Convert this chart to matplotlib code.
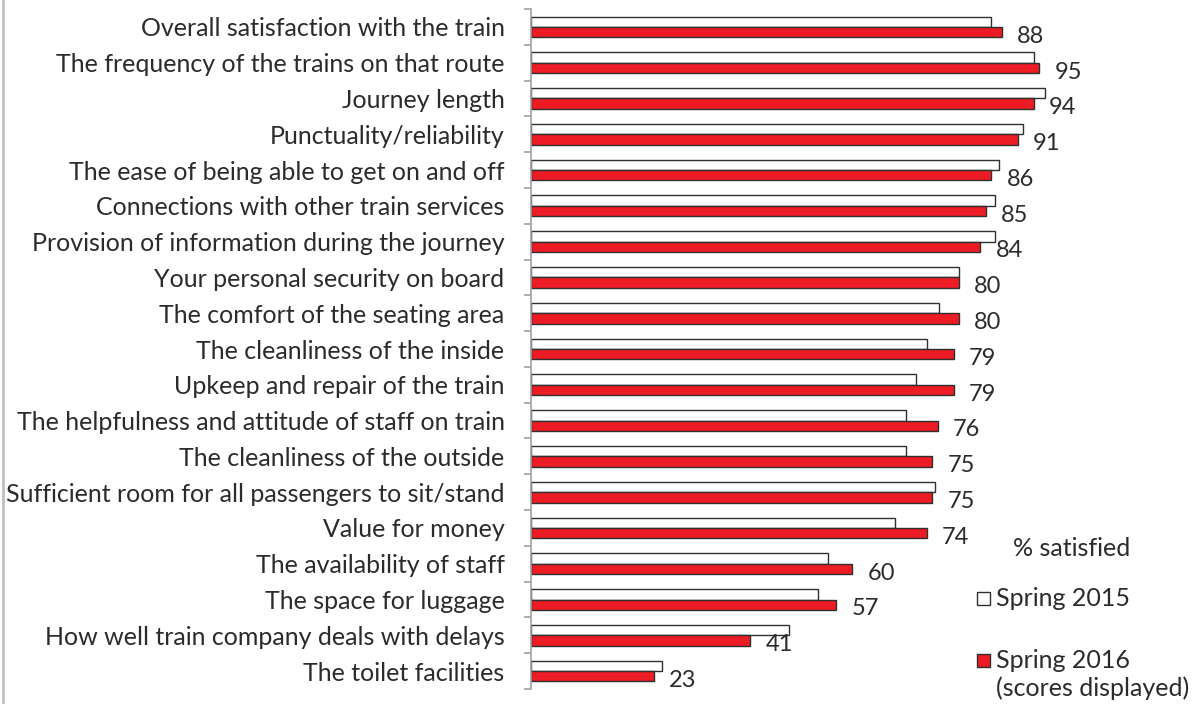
import numpy as np
import matplotlib
matplotlib.use("Agg")
import matplotlib.pyplot as plt
from matplotlib.patches import Rectangle
from matplotlib.lines import Line2D

plt.rcParams['font.family'] = ['Lato', 'DejaVu Sans']

categories = [
    "Overall satisfaction with the train",
    "The frequency of the trains on that route",
    "Journey length",
    "Punctuality/reliability",
    "The ease of being able to get on and off",
    "Connections with other train services",
    "Provision of information during the journey",
    "Your personal security on board",
    "The comfort of the seating area",
    "The cleanliness of the inside",
    "Upkeep and repair of the train",
    "The helpfulness and attitude of staff on train",
    "The cleanliness of the outside",
    "Sufficient room for all passengers to sit/stand",
    "Value for money",
    "The availability of staff",
    "The space for luggage",
    "How well train company deals with delays",
    "The toilet facilities",
]
spring_2015 = [86, 94, 96, 92, 87.5, 86.7, 86.7, 80, 76.3, 74, 72, 70, 70, 75.6, 68, 55.6, 53.7, 48.2, 24.5]
spring_2016 = [88, 95, 94, 91, 86, 85, 84, 80, 80, 79, 79, 76, 75, 75, 74, 60, 57, 41, 23]

W, H = 1202, 704
fig = plt.figure(figsize=(W / 100, H / 100), dpi=100)
x0, x1, ytop, ybot = 531, 1190, 9, 689
ax = fig.add_axes([x0 / W, 1 - ybot / H, (x1 - x0) / W, (ybot - ytop) / H])

n = len(categories)
y = np.arange(n)
h = 0.29
red = '#ED1C24'
edge = '#303030'
tc = '#2b2b2b'
fs = 18
b15 = ax.barh(y - h / 2, spring_2015, height=h, color='white', edgecolor=edge, linewidth=1.0)
b16 = ax.barh(y + h / 2, spring_2016, height=h, color=red, edgecolor=edge, linewidth=1.0)

ax.set_xlim(0, (x1 - x0) / 5.35)
ax.set_ylim(n - 0.5, -0.5)

for i, v in enumerate(spring_2016):
    ax.annotate(f"{v}", (v, y[i] + h / 2), xytext=(11, -3), textcoords='offset points',
                ha='left', va='center', fontsize=17, color=tc)

ax.set_yticks(y)
ax.set_yticklabels(categories, fontsize=fs, color=tc)
ax.set_yticks(np.arange(-0.5, n, 1), minor=True)
ax.tick_params(axis='y', which='major', length=0, pad=19)
ax.tick_params(axis='y', which='minor', length=5, color='#A0A0A0', width=1.2)
ax.set_xticks([])
for s in ['top', 'right', 'bottom']:
    ax.spines[s].set_visible(False)
ax.spines['left'].set_color('#A0A0A0')
ax.spines['left'].set_linewidth(1.2)

# legend
fig.text(1013 / W, 1 - 548 / H, "% satisfied", fontsize=fs, color=tc, va='center', ha='left')
sq = 13
fig.patches.append(Rectangle((977 / W, 1 - (598 + sq / 2) / H), sq / W, sq / H,
                             transform=fig.transFigure, facecolor='white', edgecolor=edge, lw=1))
fig.text(996 / W, 1 - 598 / H, "Spring 2015", fontsize=fs, color=tc, va='center', ha='left')
fig.patches.append(Rectangle((977 / W, 1 - (660 + sq / 2) / H), sq / W, sq / H,
                             transform=fig.transFigure, facecolor=red, edgecolor=edge, lw=1))
fig.text(996 / W, 1 - 660 / H, "Spring 2016", fontsize=fs, color=tc, va='center', ha='left')
fig.text(996 / W, 1 - 688 / H, "(scores displayed)", fontsize=fs, color=tc, va='center', ha='left')

fig.lines.append(Line2D([3 / W, 3 / W], [0, 1], transform=fig.transFigure, color='#C0C0C0', lw=2))

fig.savefig("out.png", dpi=100)
